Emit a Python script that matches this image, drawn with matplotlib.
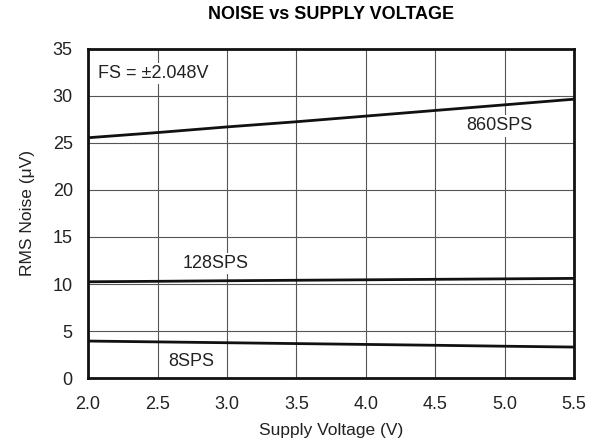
import numpy as np
import matplotlib
matplotlib.use('Agg')
import matplotlib.pyplot as plt

plt.rcParams['font.family'] = ['Liberation Sans', 'DejaVu Sans']

# supply voltage (V)
voltage = [2.0, 2.5, 3.0, 3.5, 4.0, 4.5, 5.0, 5.5]
# RMS noise (uV) per data rate
noise_860 = [25.55, 26.1, 26.7, 27.25, 27.85, 28.45, 29.05, 29.65]
noise_128 = [10.24, 10.29, 10.35, 10.40, 10.45, 10.50, 10.55, 10.60]
noise_8 = [3.94, 3.85, 3.76, 3.67, 3.58, 3.49, 3.39, 3.30]

labels = ['860SPS', '128SPS', '8SPS']
label_pos = [(4.96, 26.8), (2.92, 12.2), (2.74, 1.75)]

x_ticks = [2.0, 2.5, 3.0, 3.5, 4.0, 4.5, 5.0, 5.5]
y_ticks = [0, 5, 10, 15, 20, 25, 30, 35]

fig = plt.figure(figsize=(5.95, 4.48), dpi=100)
ax = fig.add_axes([0.148, 0.156, 0.817, 0.735])

for series in (noise_860, noise_128, noise_8):
    ax.plot(voltage, series, color='#111111', lw=2.0, zorder=3)

ax.set_xlim(2.0, 5.5)
ax.set_ylim(0, 35)
ax.set_xticks(x_ticks)
ax.set_xticklabels([f'{v:.1f}' for v in x_ticks])
ax.set_yticks(y_ticks)
ax.grid(True, color='#555555', lw=0.8, zorder=1)
ax.tick_params(axis='y', length=0, labelsize=13, pad=11, colors='#222222')
ax.tick_params(axis='x', length=0, labelsize=13, pad=13, colors='#222222')
for s in ax.spines.values():
    s.set_linewidth(2.0)
    s.set_color('#111111')
ax.set_axisbelow(True)

for lab, (lx, ly) in zip(labels, label_pos):
    ax.text(lx, ly, lab, ha='center', va='center', fontsize=13, color='#222222',
            bbox=dict(facecolor='white', edgecolor='none', pad=1.5), zorder=4)
ax.text(2.07, 32.4, 'FS = ±2.048V', ha='left', va='center', fontsize=13, color='#222222',
        bbox=dict(facecolor='white', edgecolor='none', pad=1.5), zorder=4)

ax.set_xlabel('Supply Voltage (V)', fontsize=12.5, labelpad=7, color='#222222')
ax.set_ylabel('RMS Noise (μV)', fontsize=12.5, labelpad=13, color='#222222')
fig.text(0.557, 0.968, 'NOISE vs SUPPLY VOLTAGE', ha='center', va='center',
         fontsize=13, fontweight='bold')

fig.savefig('out.png', dpi=100)
